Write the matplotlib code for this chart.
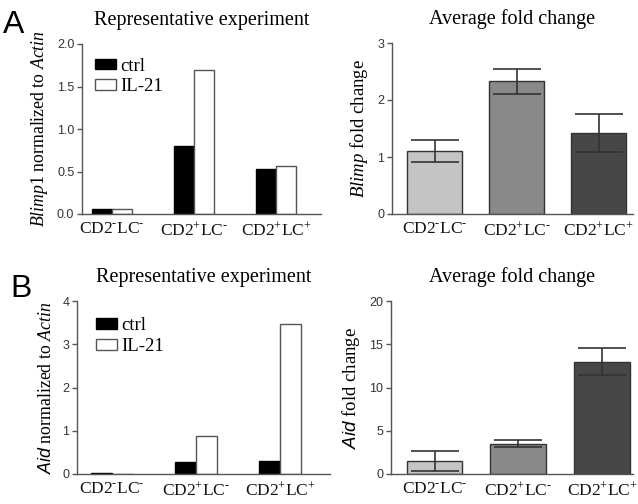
import matplotlib
matplotlib.use("Agg")
import matplotlib.pyplot as plt
import numpy as np
from matplotlib.patches import Patch

plt.rcParams['mathtext.fontset'] = 'custom'
plt.rcParams['mathtext.rm'] = 'Liberation Serif'
plt.rcParams['mathtext.it'] = 'Liberation Serif:italic'
plt.rcParams['mathtext.sf'] = 'Liberation Sans:italic'

categories = [r"CD2$^{\text{-}}$LC$^{\text{-}}$", r"CD2$^{\text{+}}$LC$^{\text{-}}$",
              r"CD2$^{\text{+}}$LC$^{\text{+}}$"]

# Panel A
blimp_ctrl = [0.06, 0.80, 0.53]
blimp_il21 = [0.06, 1.69, 0.57]
blimp_fold = [1.10, 2.33, 1.42]
blimp_fold_err = [0.19, 0.22, 0.34]

# Panel B
aid_ctrl = [0.02, 0.27, 0.30]
aid_il21 = [0.0, 0.87, 3.47]
aid_fold = [1.5, 3.5, 13.0]
aid_fold_err = [1.15, 0.4, 1.6]

fold_colors = ["#c4c4c4", "#898989", "#474747"]

SERIF = "Liberation Serif"
SANS = "Liberation Sans"
AX_COLOR = "#555555"
TICK_COLOR = "#333333"

fig = plt.figure(figsize=(6.38, 5.04), dpi=100)
W, H = 638, 504

def axes_px(l, r, t, b):
    return fig.add_axes([l / W, (H - b) / H, (r - l) / W, (b - t) / H])

def style(ax, yticks, fmt):
    for s in ["top", "right"]:
        ax.spines[s].set_visible(False)
    for s in ["left", "bottom"]:
        ax.spines[s].set_color(AX_COLOR)
        ax.spines[s].set_linewidth(1.0)
    ax.set_yticks(yticks)
    ax.set_yticklabels([fmt.format(v) for v in yticks], fontfamily=SANS,
                       fontsize=9, color=TICK_COLOR)
    ax.tick_params(axis='y', length=3.5, width=1.0, color=AX_COLOR, pad=2)
    ax.tick_params(axis='x', length=0, pad=5)
    ax.set_xticks(range(3))
    ax.set_xticklabels(categories, fontfamily=SERIF, fontsize=12.5, color="#111111")
    ax.set_ylim(yticks[0], yticks[-1])

def grouped(ax, ctrl, il21, yticks, fmt, ylabel, xlim, leg_anchor):
    x = np.arange(3)
    w = 0.245
    ax.bar(x - w / 2, ctrl, w, color="black", edgecolor="black", linewidth=1.0, label="ctrl")
    ax.bar(x + w / 2, il21, w, color="white", edgecolor="#555555", linewidth=1.0, label="IL-21")
    style(ax, yticks, fmt)
    ax.set_xlim(*xlim)
    ax.set_ylabel(ylabel, fontfamily=SERIF, fontsize=12.8, labelpad=5)
    ax.set_title("Representative experiment", fontfamily=SERIF, fontsize=14.5, pad=14)
    handles = [Patch(facecolor="black", edgecolor="black", label="ctrl"),
               Patch(facecolor="white", edgecolor="#555555", label="IL-21")]
    ax.legend(handles=handles, loc="upper left", bbox_to_anchor=leg_anchor, frameon=False,
              prop={"family": SERIF, "size": 13.5}, handlelength=1.1, handleheight=0.5,
              handletextpad=0.25, labelspacing=0.2, borderpad=0, borderaxespad=0)

def fold(ax, vals, errs, yticks, ylabel, xlim):
    x = np.arange(3)
    ax.bar(x, vals, 0.665, color=fold_colors, edgecolor="#333333", linewidth=1.0)
    ax.errorbar(x, vals, yerr=errs, fmt="none", ecolor="#333333", elinewidth=1.2,
                capsize=17, capthick=1.2)
    style(ax, yticks, "{:g}")
    ax.set_xlim(*xlim)
    ax.set_ylabel(ylabel, fontfamily=SERIF, fontsize=13.5, labelpad=5)
    ax.set_title("Average fold change", fontfamily=SERIF, fontsize=14.5, pad=14)

axA1 = axes_px(82, 321, 44, 214)
grouped(axA1, blimp_ctrl, blimp_il21, [0, 0.5, 1.0, 1.5, 2.0], "{:.1f}",
        r"$\it{Blimp1}$ normalized to $\it{Actin}$", (-0.366, 2.55), (0.055, 0.92))

axA2 = axes_px(392, 633, 43, 214)
fold(axA2, blimp_fold, blimp_fold_err, [0, 1, 2, 3], r"$\it{Blimp}$ fold change", (-0.52, 2.42))

axB1 = axes_px(77, 330, 301, 474)
grouped(axB1, aid_ctrl, aid_il21, [0, 1, 2, 3, 4], "{:g}",
        r"$\mathsf{Aid}$ normalized to $\it{Actin}$", (-0.417, 2.595), (0.075, 0.905))

axB2 = axes_px(391, 633, 301, 474)
fold(axB2, aid_fold, aid_fold_err, [0, 5, 10, 15, 20], r"$\mathsf{Aid}$ fold change", (-0.52, 2.37))

fig.text(3 / W, 1 - 33 / H, "A", fontfamily=SANS, fontsize=23, va="baseline", ha="left")
fig.text(10 / W, 1 - 297 / H, "B", fontfamily=SANS, fontsize=23, va="baseline", ha="left")

fig.savefig("out.png", dpi=100)
